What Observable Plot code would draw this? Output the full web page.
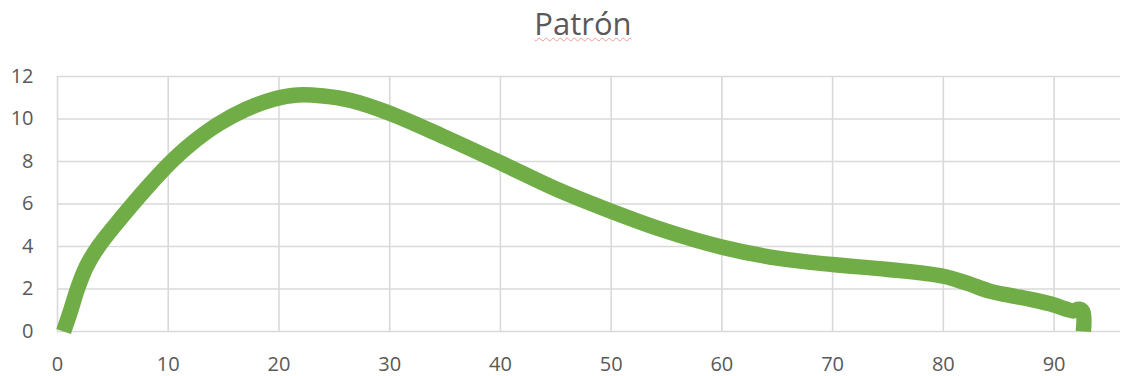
<!DOCTYPE html>
<html>
<head>
<meta charset="utf-8">
<script src="https://cdn.jsdelivr.net/npm/d3@7"></script>
<script src="https://cdn.jsdelivr.net/npm/@observablehq/plot@0.6"></script>
<style>
  body { margin: 0; background: #fff; font-family: "Open Sans", sans-serif; }
  #title {
    height: 48px; line-height: 46px; padding-left: 42px; text-align: center;
    font-size: 31px; color: #595959;
  }
  #title span {
    text-decoration-line: underline; text-decoration-style: wavy;
    text-decoration-color: rgba(230, 80, 80, 0.55); text-decoration-thickness: 1px;
    text-underline-offset: 2px;
  }
</style>
</head>
<body>
<div id="title"><span>Patrón</span></div>
<div id="chart"></div>
<script>
// Pattern curve: time (x) and value (y)
const tiempo = [0.55, 1.2, 1.8, 2.6, 3.7, 5.2, 6.8, 8.4, 10, 12, 14.5, 17, 19.5, 21.7, 24, 26.5, 30, 35, 40, 45, 50, 55, 60, 65, 70, 75, 80, 82.2, 84.2, 86, 88, 90, 91, 91.7, 92.25, 92.6, 92.65];
const valor  = [0, 1, 2, 3.05, 4.0, 5.0, 6.0, 6.95, 7.85, 8.8, 9.75, 10.45, 10.93, 11.13, 11.08, 10.87, 10.27, 9.14, 7.94, 6.71, 5.66, 4.72, 3.97, 3.45, 3.15, 2.92, 2.6, 2.26, 1.9, 1.7, 1.5, 1.25, 1.07, 0.97, 1.05, 0.93, 0];

const xTicks = [0, 10, 20, 30, 40, 50, 60, 70, 80, 90];
const yTicks = [0, 2, 4, 6, 8, 10, 12];

const data = tiempo.map((t, i) => ({t, v: valor[i]}));

const chart = Plot.plot({
  width: 1124,
  height: 328,
  marginTop: 28,
  marginBottom: 45,
  marginLeft: 57,
  marginRight: 4,
  style: {fontFamily: "'Open Sans', sans-serif", fontSize: "20px", color: "#595959", background: "#fff"},
  x: {domain: [0, 96]},
  y: {domain: [0, 12]},
  marks: [
    Plot.ruleX(xTicks, {stroke: "#d9d9d9", strokeWidth: 1.6}),
    Plot.ruleY(yTicks, {stroke: "#d9d9d9", strokeWidth: 1.6}),
    Plot.axisX({ticks: xTicks, tickSize: 0, tickPadding: 25, label: null}),
    Plot.axisY({ticks: yTicks, tickSize: 0, tickPadding: 24, label: null}),
    Plot.line(data, {
      x: "t", y: "v", stroke: "#70AD47", strokeWidth: 15.5,
      curve: "catmull-rom", strokeLinecap: "butt", strokeLinejoin: "round"
    })
  ]
});
document.getElementById("chart").appendChild(chart);
</script>
</body>
</html>
